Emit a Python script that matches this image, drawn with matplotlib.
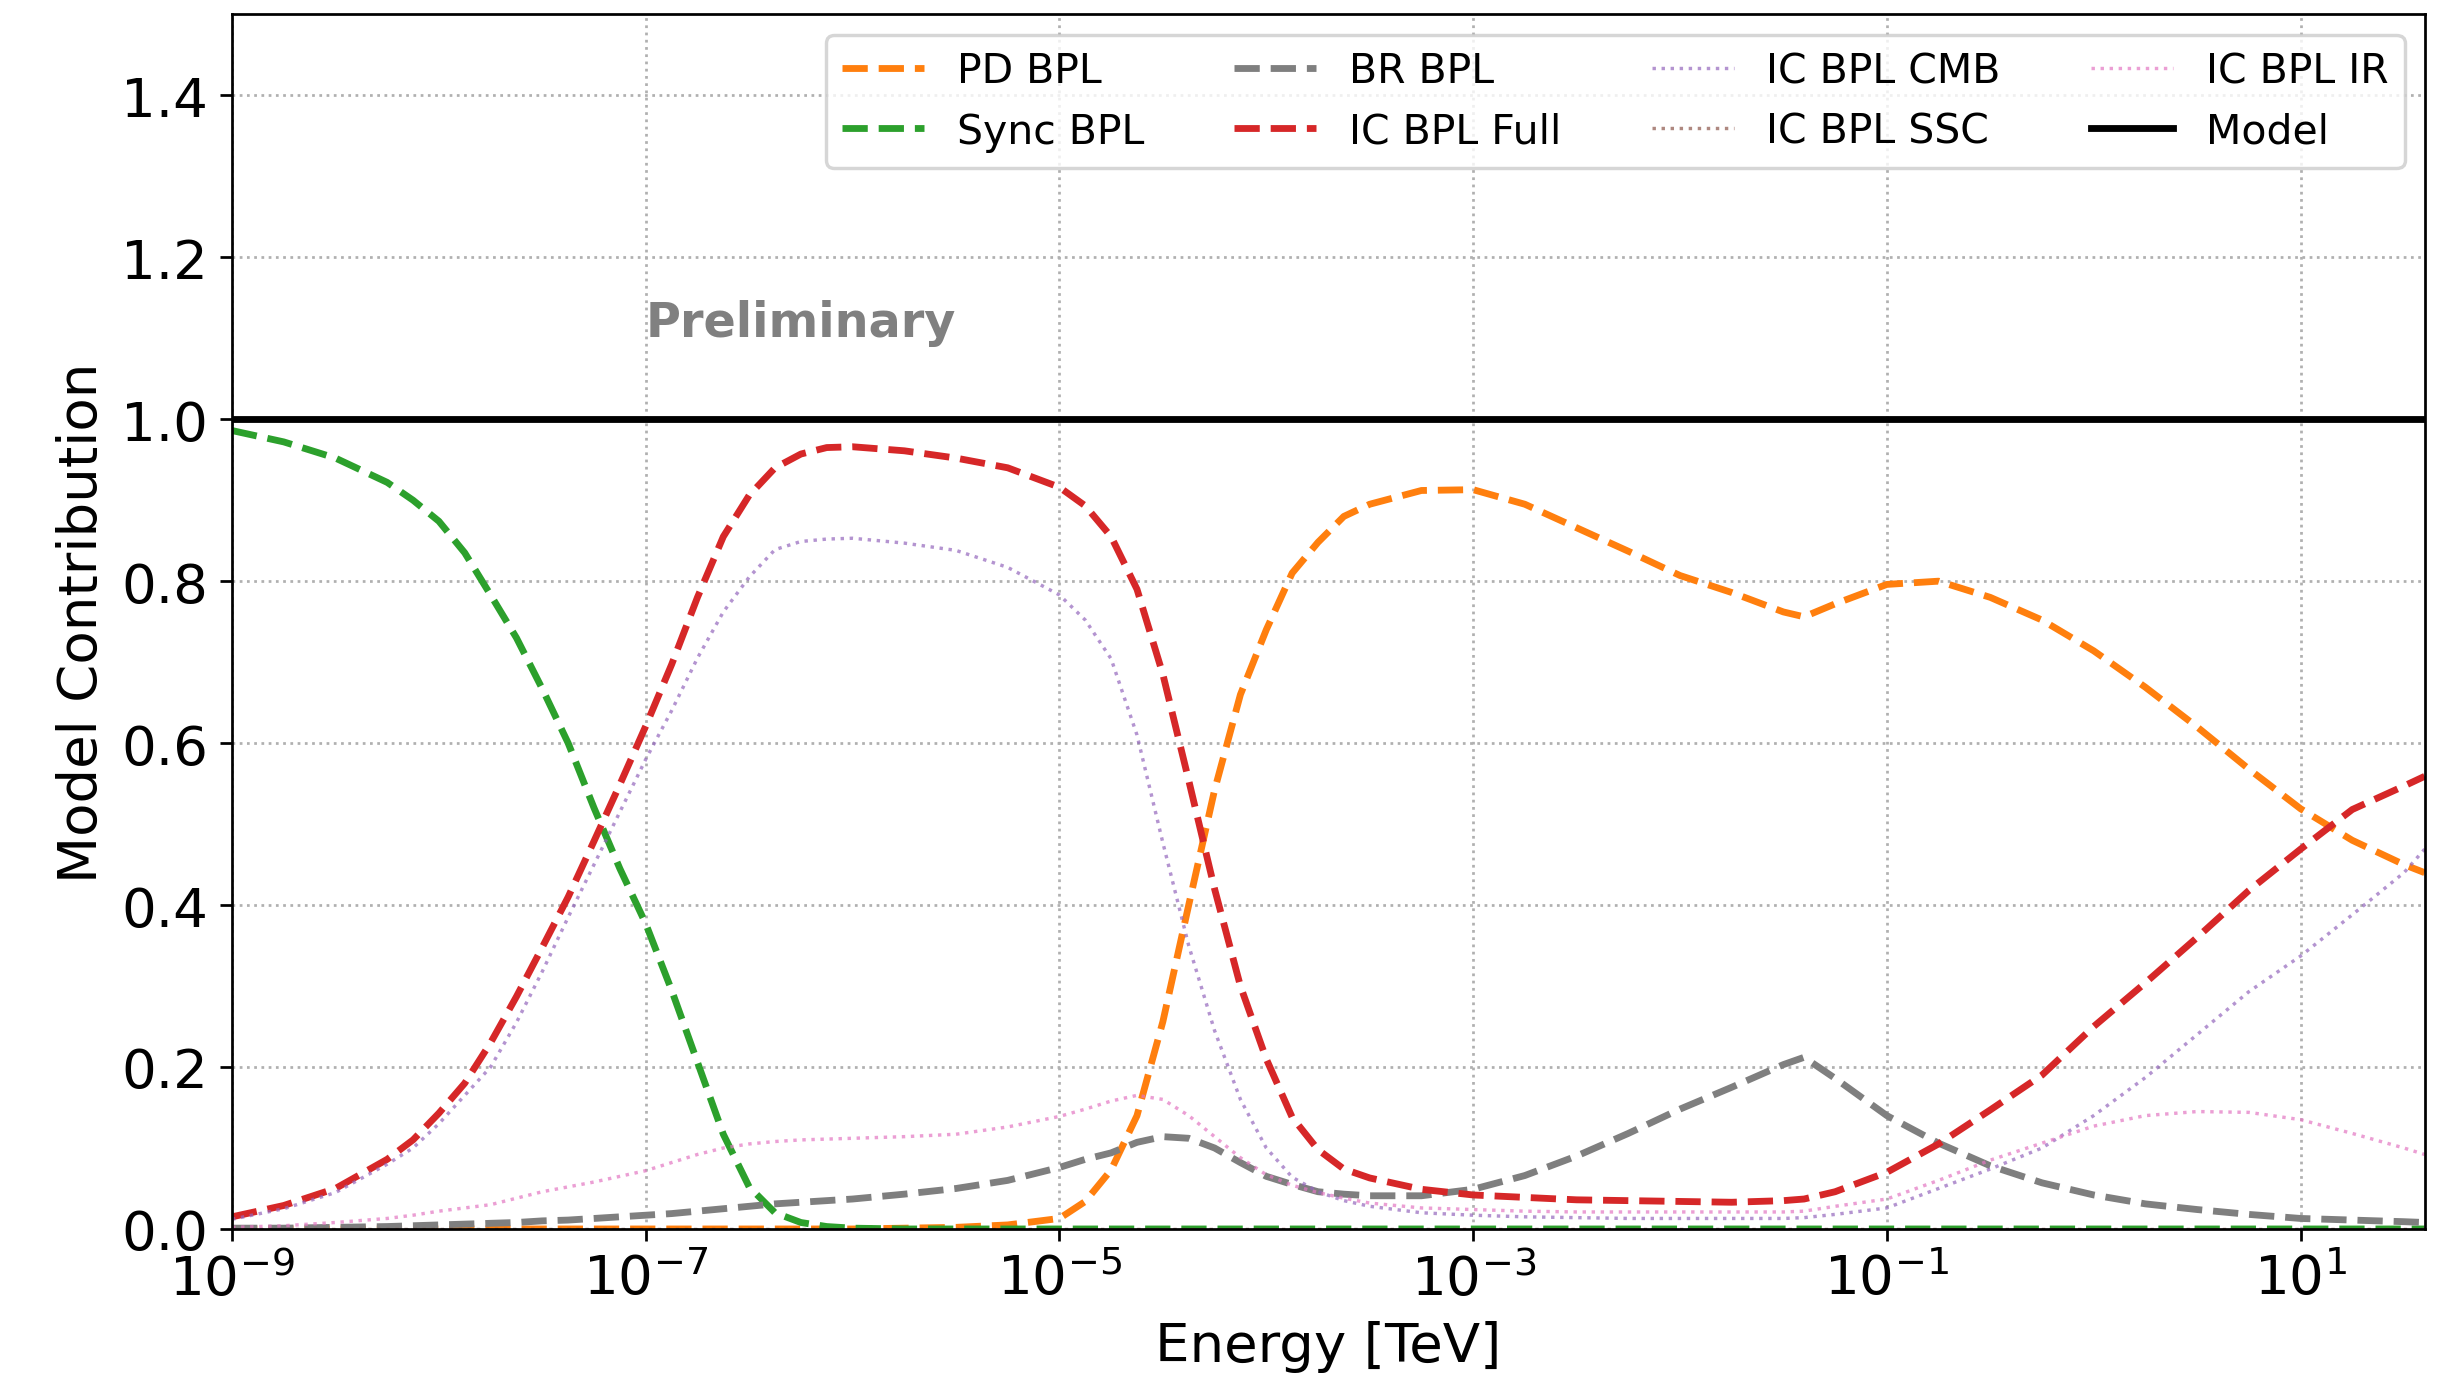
import numpy as np
import matplotlib
matplotlib.use("Agg")
import matplotlib.pyplot as plt
from matplotlib.ticker import NullLocator

# log10(E / TeV) sample points
log_energy = [-9.0, -8.75, -8.5, -8.25, -8.125, -8.0, -7.875, -7.75, -7.625, -7.5,
              -7.375, -7.25, -7.125, -7.0, -6.875, -6.75, -6.625, -6.5, -6.375, -6.25,
              -6.125, -6.0, -5.75, -5.5, -5.25, -5.0, -4.875, -4.75, -4.625, -4.5,
              -4.375, -4.25, -4.125, -4.0, -3.875, -3.75, -3.625, -3.5, -3.25, -3.0,
              -2.75, -2.5, -2.25, -2.0, -1.75, -1.5, -1.4, -1.25, -1.0, -0.75,
              -0.5, -0.25, 0.0, 0.25, 0.5, 0.75, 1.0, 1.25, 1.5, 1.6]

pd_bpl = [0.0, 0.0, 0.0, 0.0, 0.0, 0.0, 0.0, 0.0, 0.0, 0.0,
          0.0, 0.0, 0.0, 0.0, 0.0, 0.0, 0.0, 0.0, 0.0, 0.0,
          0.0, 0.0, 0.001, 0.002, 0.005, 0.013, 0.034, 0.073, 0.14, 0.256,
          0.40, 0.542, 0.66, 0.74, 0.81, 0.848, 0.88, 0.895, 0.912, 0.913,
          0.895, 0.866, 0.837, 0.807, 0.786, 0.762, 0.756, 0.772, 0.796, 0.80,
          0.78, 0.752, 0.714, 0.669, 0.62, 0.568, 0.519, 0.48, 0.45, 0.44]

sync_bpl = [0.986, 0.972, 0.952, 0.922, 0.90, 0.874, 0.835, 0.783, 0.73, 0.667,
            0.60, 0.52, 0.445, 0.377, 0.295, 0.206, 0.117, 0.052, 0.02, 0.008,
            0.003, 0.001, 0.0, 0.0, 0.0, 0.0, 0.0, 0.0, 0.0, 0.0,
            0.0, 0.0, 0.0, 0.0, 0.0, 0.0, 0.0, 0.0, 0.0, 0.0,
            0.0, 0.0, 0.0, 0.0, 0.0, 0.0, 0.0, 0.0, 0.0, 0.0,
            0.0, 0.0, 0.0, 0.0, 0.0, 0.0, 0.0, 0.0, 0.0, 0.0]

br_bpl = [0.001, 0.001, 0.002, 0.003, 0.004, 0.005, 0.006, 0.007, 0.008, 0.01,
          0.011, 0.013, 0.015, 0.017, 0.019, 0.022, 0.025, 0.028, 0.031, 0.033,
          0.035, 0.037, 0.043, 0.05, 0.06, 0.076, 0.086, 0.094, 0.107, 0.114,
          0.112, 0.10, 0.082, 0.065, 0.055, 0.046, 0.043, 0.041, 0.041, 0.049,
          0.066, 0.09, 0.118, 0.148, 0.175, 0.203, 0.212, 0.186, 0.14, 0.106,
          0.078, 0.057, 0.042, 0.031, 0.024, 0.018, 0.013, 0.011, 0.009, 0.008]

ic_full = [0.015, 0.029, 0.05, 0.086, 0.11, 0.143, 0.18, 0.23, 0.287, 0.348,
           0.41, 0.479, 0.549, 0.621, 0.697, 0.78, 0.855, 0.906, 0.94, 0.957,
           0.965, 0.966, 0.961, 0.952, 0.94, 0.916, 0.893, 0.855, 0.79, 0.685,
           0.554, 0.42, 0.30, 0.21, 0.138, 0.098, 0.074, 0.063, 0.049, 0.042,
           0.039, 0.036, 0.035, 0.034, 0.033, 0.035, 0.037, 0.046, 0.07, 0.105,
           0.147, 0.19, 0.25, 0.304, 0.36, 0.418, 0.469, 0.518, 0.547, 0.559]

ic_cmb = [0.012, 0.025, 0.045, 0.08, 0.10, 0.13, 0.165, 0.2, 0.255, 0.318,
          0.385, 0.45, 0.515, 0.58, 0.64, 0.705, 0.762, 0.805, 0.839, 0.849,
          0.852, 0.853, 0.847, 0.838, 0.817, 0.783, 0.752, 0.704, 0.61, 0.477,
          0.35, 0.245, 0.16, 0.10, 0.064, 0.046, 0.035, 0.028, 0.02, 0.017,
          0.015, 0.014, 0.013, 0.013, 0.013, 0.013, 0.014, 0.018, 0.026, 0.05,
          0.074, 0.10, 0.14, 0.187, 0.24, 0.293, 0.337, 0.388, 0.44, 0.469]

ic_ssc = [0.0, 0.0, 0.0, 0.0, 0.0, 0.0, 0.0, 0.0, 0.0, 0.0,
          0.0, 0.0, 0.0, 0.0, 0.0, 0.0, 0.0, 0.0, 0.0, 0.0,
          0.0, 0.0, 0.0, 0.0, 0.0, 0.0, 0.0, 0.0, 0.0, 0.0,
          0.0, 0.0, 0.0, 0.0, 0.0, 0.0, 0.0, 0.0, 0.0, 0.0,
          0.0, 0.0, 0.0, 0.0, 0.0, 0.0, 0.0, 0.0, 0.0, 0.0,
          0.0, 0.0, 0.0, 0.0, 0.0, 0.0, 0.0, 0.0, 0.0, 0.0]

ic_ir = [0.002, 0.004, 0.008, 0.013, 0.017, 0.022, 0.026, 0.03, 0.038, 0.046,
         0.052, 0.058, 0.065, 0.072, 0.082, 0.092, 0.1, 0.105, 0.108, 0.11,
         0.111, 0.112, 0.114, 0.117, 0.126, 0.139, 0.148, 0.158, 0.165, 0.16,
         0.14, 0.114, 0.088, 0.067, 0.054, 0.045, 0.038, 0.032, 0.026, 0.024,
         0.022, 0.021, 0.021, 0.021, 0.021, 0.021, 0.022, 0.028, 0.037, 0.06,
         0.085, 0.106, 0.127, 0.14, 0.145, 0.144, 0.135, 0.118, 0.1, 0.092]

model_total = [1.0] * len(log_energy)

energy = 10.0 ** np.array(log_energy)

fig = plt.figure(figsize=(10, 5.663), dpi=245.8)
ax = fig.add_axes([0.0944, 0.1164, 0.8922, 0.8726])

ax.plot(energy, pd_bpl, color="C1", ls="--", lw=2, label="PD BPL")
ax.plot(energy, sync_bpl, color="C2", ls="--", lw=2, label="Sync BPL")
ax.plot(energy, br_bpl, color="C7", ls="--", lw=2, label="BR BPL")
ax.plot(energy, ic_full, color="C3", ls="--", lw=2, label="IC BPL Full")
ax.plot(energy, ic_cmb, color="C4", ls=":", lw=1, alpha=0.7, label="IC BPL CMB")
ax.plot(energy, ic_ssc, color="C5", ls=":", lw=1, alpha=0.7, label="IC BPL SSC")
ax.plot(energy, ic_ir, color="C6", ls=":", lw=1, alpha=0.7, label="IC BPL IR")
ax.plot(energy, model_total, color="black", ls="-", lw=2, label="Model")

ax.set_xscale("log")
ax.set_xlim(1e-9, 40)
ax.set_ylim(0, 1.5)
ax.set_xticks([1e-9, 1e-7, 1e-5, 1e-3, 1e-1, 1e1])
ax.xaxis.set_minor_locator(NullLocator())
ax.tick_params(labelsize=16)
ax.grid(True, which="major", ls=":", lw=0.8, color="#b0b0b0")

ax.set_xlabel("Energy [TeV]", fontsize=16)
ax.set_ylabel("Model Contribution", fontsize=16)

ax.text(1e-7, 1.12, "Preliminary", fontsize=14, fontweight="bold",
        color="gray", ha="left", va="center")

ax.legend(loc="upper right", ncol=4, fontsize=12, columnspacing=2.2)

fig.savefig("out.png", dpi=245.8)
